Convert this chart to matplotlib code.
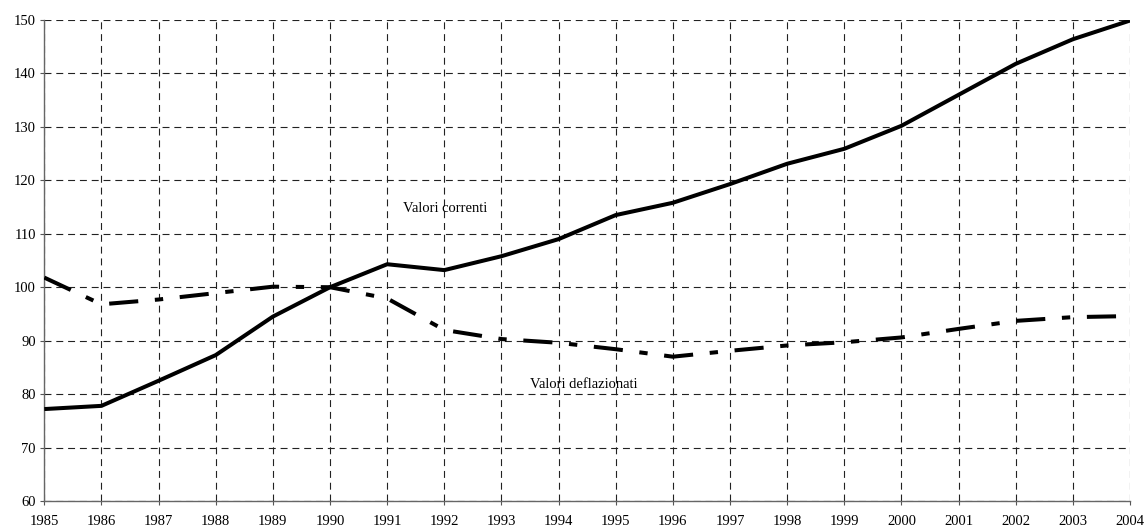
import numpy as np
import matplotlib
matplotlib.use("Agg")
import matplotlib.pyplot as plt

plt.rcParams['font.family'] = ['Liberation Serif', 'DejaVu Serif']
plt.rcParams['lines.scale_dashes'] = False

# data
years = list(range(1985, 2005))
correnti = [77.2, 77.8, 82.5, 87.3, 94.5, 100.0, 104.3, 103.2, 105.8, 109.0,
            113.5, 115.8, 119.3, 123.1, 125.9, 130.2, 136.0, 141.8, 146.4, 149.9]
deflazionati = [101.8, 96.8, 97.7, 98.9, 100.1, 100.0, 97.9, 92.0, 90.3, 89.6,
                88.4, 87.0, 88.1, 89.1, 89.7, 90.6, 92.2, 93.7, 94.4, 94.6]
y_ticks = list(range(60, 151, 10))

fig = plt.figure(figsize=(11.45, 5.32), dpi=100)
ax = fig.add_axes([0.0387, 0.0583, 0.9482, 0.9041])

# grid first so the lines sit on top
ax.set_axisbelow(True)
ax.grid(True, color='#222222', linewidth=0.8, linestyle=(0, (5, 3.5)))

ax.plot(years, correnti, color='black', linewidth=2.9, solid_joinstyle='round',
        solid_capstyle='butt', zorder=3)
ax.plot(years, deflazionati, color='black', linewidth=2.9,
        linestyle=(0, (21, 12, 6, 12)), dash_capstyle='butt', zorder=3)

ax.text(1991.27, 114.8, 'Valori correnti', fontsize=10.5, ha='left', va='center')
ax.text(1993.5, 81.8, 'Valori deflazionati', fontsize=10.5, ha='left', va='center')

ax.set_xlim(1985, 2004)
ax.set_ylim(60, 150)
ax.set_xticks(years)
ax.set_yticks(y_ticks)
ax.tick_params(axis='both', labelsize=10.5, length=3, width=0.8, color='#555555',
               direction='out')
ax.tick_params(axis='x', pad=7)
ax.tick_params(axis='y', pad=3)

for side in ['top', 'right']:
    ax.spines[side].set_visible(False)
for side in ['left', 'bottom']:
    ax.spines[side].set_color('#666666')
    ax.spines[side].set_linewidth(1.0)

fig.savefig('out.png', dpi=100)
